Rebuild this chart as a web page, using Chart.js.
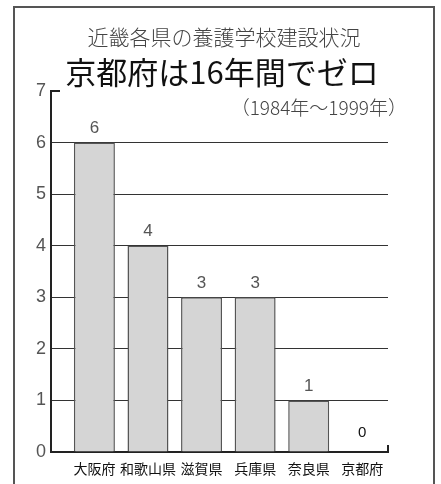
<!DOCTYPE html>
<html lang="ja">
<head>
<meta charset="utf-8">
<script src="https://cdn.jsdelivr.net/npm/chart.js@4"></script>
<style>
  html, body { margin: 0; padding: 0; background: #fff; }
  #wrap { width: 441px; height: 484px; position: relative; }
</style>
</head>
<body>
<div id="wrap"><canvas id="c" width="441" height="484"></canvas></div>
<script>
// 近畿各県の養護学校建設数（1984年～1999年）
const categories = ['大阪府', '和歌山県', '滋賀県', '兵庫県', '奈良県', '京都府'];
const schoolCounts = [6, 4, 3, 3, 1, 0];
const yTicks = [0, 1, 2, 3, 4, 5, 6, 7];

const titleMain = '近畿各県の養護学校建設状況';
const titleSub = '京都府は16年間でゼロ';
const periodNote = '（1984年～1999年）';

const JP = '"Noto Sans CJK JP", "Noto Sans", sans-serif';
const NUM = '"Liberation Sans", "DejaVu Sans", sans-serif';

const decorations = {
  id: 'decorations',
  beforeDraw(chart) {
    const ctx = chart.ctx;
    ctx.save();
    ctx.fillStyle = '#fff';
    ctx.fillRect(0, 0, chart.width, chart.height);
    // panel frame
    ctx.strokeStyle = '#555';
    ctx.lineWidth = 2;
    ctx.beginPath();
    ctx.moveTo(14, chart.height + 5);
    ctx.lineTo(14, 7);
    ctx.lineTo(434, 7);
    ctx.lineTo(434, chart.height + 5);
    ctx.stroke();
    ctx.restore();
  },
  afterDraw(chart) {
    const ctx = chart.ctx;
    const x = chart.scales.x, y = chart.scales.y;
    ctx.save();
    // headings
    ctx.textAlign = 'center';
    ctx.textBaseline = 'middle';
    ctx.fillStyle = '#444';
    ctx.font = '300 21px ' + JP;
    ctx.fillText(titleMain, 224, 37);
    ctx.fillStyle = '#111';
    ctx.font = '31px ' + JP;
    ctx.fillText(titleSub, 222, 72);
    ctx.textAlign = 'right';
    ctx.fillStyle = '#444';
    ctx.font = '300 19px ' + JP;
    ctx.fillText(periodNote, 407, 108);

    // corner cap at top of the value axis, end tick on the category axis
    ctx.strokeStyle = '#222';
    ctx.lineWidth = 2;
    const yTop = y.getPixelForValue(7);
    ctx.beginPath();
    ctx.moveTo(x.left, yTop);
    ctx.lineTo(x.left + 9, yTop);
    ctx.stroke();
    const yBase = y.getPixelForValue(0);
    ctx.beginPath();
    ctx.moveTo(x.right, yBase);
    ctx.lineTo(x.right, yBase - 7);
    ctx.stroke();

    // value labels above each bar
    const meta = chart.getDatasetMeta(0);
    meta.data.forEach((bar, i) => {
      const v = schoolCounts[i];
      ctx.textAlign = 'center';
      ctx.textBaseline = 'middle';
      if (v === 0) {
        ctx.fillStyle = '#111';
        ctx.font = '15px ' + NUM;
        ctx.fillText(String(v), bar.x, bar.y - 19);
      } else {
        ctx.fillStyle = '#555';
        ctx.font = '17px ' + NUM;
        ctx.fillText(String(v), bar.x, bar.y - 14);
      }
    });
    ctx.restore();
  }
};

new Chart(document.getElementById('c'), {
  type: 'bar',
  data: {
    datasets: [{
      data: schoolCounts.map((v, i) => ({ x: i, y: v })),
      backgroundColor: '#d5d5d5',
      borderColor: '#555',
      borderWidth: 1.5,
      barPercentage: 0.765,
      categoryPercentage: 1
    }]
  },
  options: {
    responsive: false,
    animation: false,
    events: [],
    layout: { padding: { top: 91, left: 20, right: 53, bottom: 0 } },
    plugins: { legend: { display: false }, tooltip: { enabled: false }, title: { display: false } },
    scales: {
      x: {
        type: 'linear',
        offset: false,
        min: -0.81,
        max: 5.48,
        afterBuildTicks: s => { s.ticks = categories.map((_, i) => ({ value: i })); },
        afterFit: s => { s.height = 32; },
        grid: { display: false, drawTicks: false, offset: false },
        border: { display: true, color: '#222', width: 2 },
        ticks: {
          padding: 8,
          autoSkip: false,
          maxRotation: 0,
          color: '#111',
          font: { family: JP, size: 14 },
          callback: v => categories[v] ?? ''
        }
      },
      y: {
        min: 0,
        max: 7,
        afterBuildTicks: s => { s.ticks = yTicks.map(v => ({ value: v })); },
        afterFit: s => { s.width = 31; },
        grid: {
          drawTicks: false,
          color: c => (c.tick && (c.tick.value === 0 || c.tick.value === 7)) ? 'rgba(0,0,0,0)' : '#333',
          lineWidth: 1
        },
        border: { display: true, color: '#222', width: 2 },
        ticks: {
          padding: 5,
          color: '#555',
          font: { family: NUM, size: 18 }
        }
      }
    }
  },
  plugins: [decorations]
});
</script>
</body>
</html>
